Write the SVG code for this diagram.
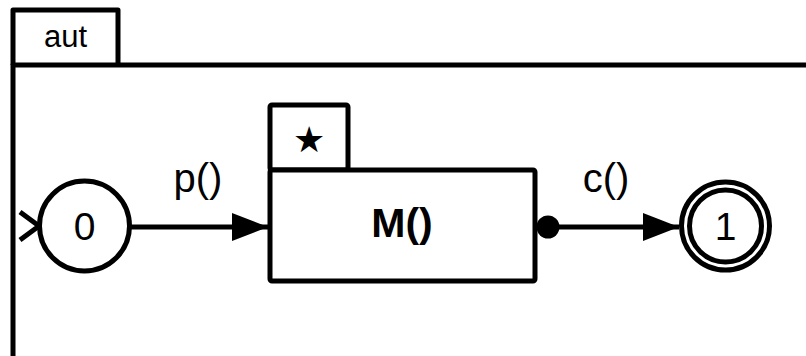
<svg xmlns="http://www.w3.org/2000/svg" width="806" height="356" viewBox="0 0 806 356">
<style>
.ln{fill:none;stroke:#000;stroke-width:5;stroke-linejoin:round}
.st{fill:#fff;stroke:#000;stroke-width:5}
.t{font-family:"Liberation Sans",Arial,sans-serif;fill:#000;text-anchor:middle}
</style>
<defs>
<marker id="arr" markerWidth="36" markerHeight="28" refX="36" refY="14" markerUnits="userSpaceOnUse" orient="auto">
<path d="M0,0 L36,14 L0,28 Z" fill="#000"/>
</marker>
</defs>
<rect width="806" height="356" fill="#fff"/>
<g id="frame">
<path class="ln" d="M13,65 L13,10 L118,10 L118,65"/>
<path class="ln" d="M13,362 L13,65 L812,65"/>
<text class="t" x="65.5" y="47" font-size="31">aut</text>
</g>
<g id="connectors">
<path class="ln" d="M20,212 L39,226 L20,240" stroke-width="6" stroke-linejoin="miter"/>
<line x1="130" y1="227" x2="268" y2="227" stroke="#000" stroke-width="5" marker-end="url(#arr)"/>
<text class="t" x="198" y="192" font-size="40">p()</text>
<circle cx="548" cy="227" r="11.5" fill="#000"/>
<line x1="556" y1="227" x2="679" y2="227" stroke="#000" stroke-width="5" marker-end="url(#arr)"/>
<text class="t" x="606" y="192" font-size="40">c()</text>
</g>
<g id="s0">
<circle class="st" cx="84.5" cy="226" r="45"/>
<text class="t" x="84.5" y="240" font-size="39">0</text>
</g>
<g id="M">
<rect class="st" x="270" y="105" width="78" height="65" rx="2"/>
<rect class="st" x="270" y="170" width="265" height="111" rx="2"/>
<text class="t" x="308.5" y="152" font-size="36">★</text>
<text class="t" x="402" y="237" font-size="41" font-weight="bold">M()</text>
</g>
<g id="s1">
<circle class="st" cx="725.5" cy="226" r="44"/>
<circle class="ln" cx="725.5" cy="226" r="36"/>
<text class="t" x="725.5" y="240" font-size="39">1</text>
</g>
</svg>
